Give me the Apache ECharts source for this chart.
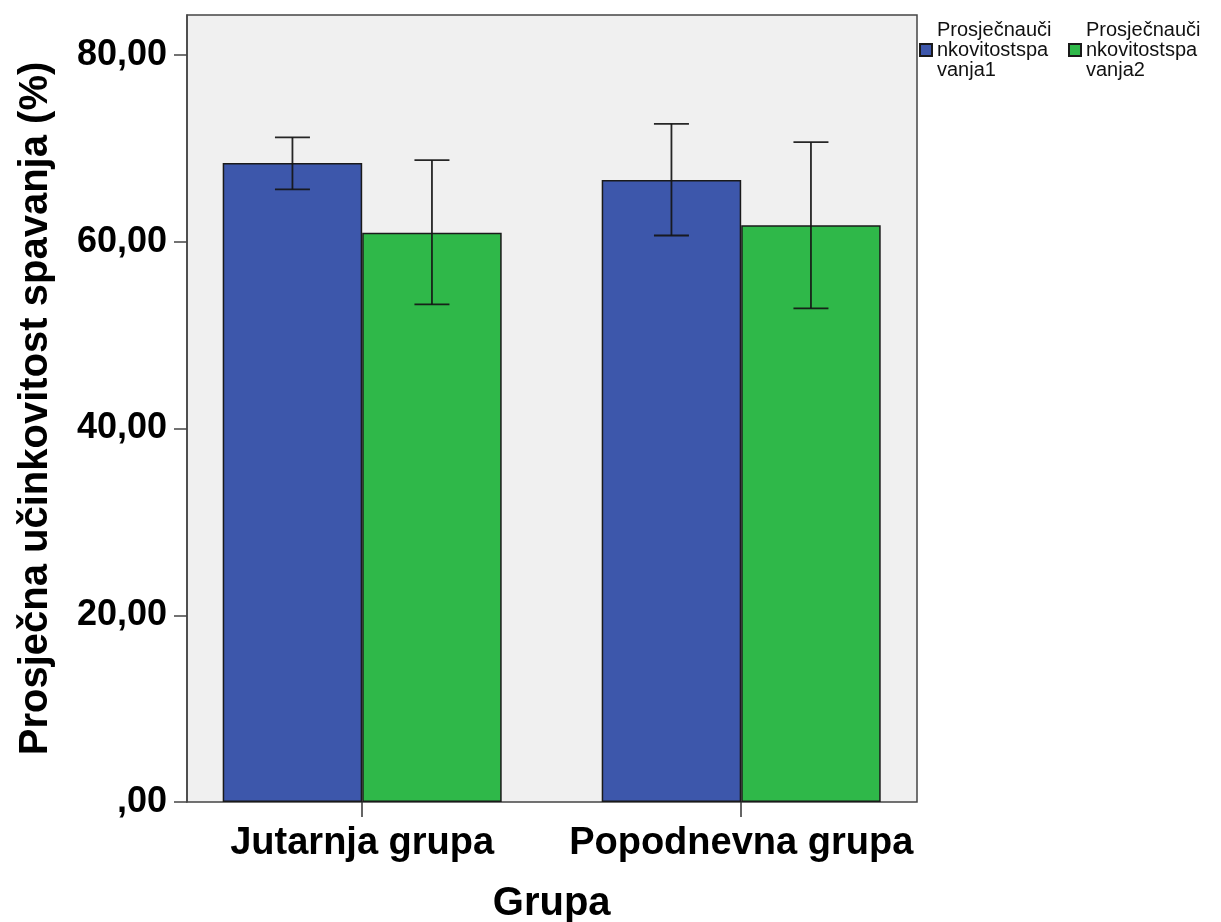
<!DOCTYPE html>
<html>
<head>
<meta charset="utf-8">
<script src="https://cdn.jsdelivr.net/npm/echarts@6/dist/echarts.min.js"></script>
<style>
html,body{margin:0;padding:0;background:#fff;}
#chart{width:1221px;height:922px;}
</style>
</head>
<body>
<div id="chart"></div>
<script>
// ---- data ----
const categories = ['Jutarnja grupa', 'Popodnevna grupa'];
const seriesNames = ['Prosječnaučinkovitostspavanja1', 'Prosječnaučinkovitostspavanja2'];
const means1 = [68.45, 66.62];
const low1 = [65.63, 60.68];
const high1 = [71.20, 72.64];
const means2 = [60.98, 61.77];
const low2 = [53.30, 52.88];
const high2 = [68.75, 70.68];
const yTicks = [0, 20, 40, 60, 80];
const yMax = 84.3;

// ---- styles ----
const FONT = "'Liberation Sans', Arial, sans-serif";
const BLUE = '#3d57ab';
const GREEN = '#2fb849';
const BAR_W = 139.5;

function fmt(v) {
  if (v === 0) return ',00';
  return v.toFixed(2).replace('.', ',');
}

function errSeries(lows, highs, offset) {
  return {
    type: 'custom',
    xAxisIndex: 0,
    yAxisIndex: 0,
    z: 5,
    silent: true,
    encode: { x: 0, y: [1, 2] },
    data: categories.map((c, i) => [i, lows[i], highs[i]]),
    renderItem: function (params, api) {
      const i = api.value(0);
      const x = api.coord([i, 0])[0] + offset;
      const yl = api.coord([i, api.value(1)])[1];
      const yh = api.coord([i, api.value(2)])[1];
      const cap = 17.5;
      const st = { stroke: '#151515', lineWidth: 1.8, opacity: 0.92 };
      return {
        type: 'group',
        children: [
          { type: 'line', shape: { x1: x, y1: yl, x2: x, y2: yh }, style: st },
          { type: 'line', shape: { x1: x - cap, y1: yh, x2: x + cap, y2: yh }, style: st },
          { type: 'line', shape: { x1: x - cap, y1: yl, x2: x + cap, y2: yl }, style: st }
        ]
      };
    }
  };
}

function legendFmt(name) {
  return name.slice(0, 12) + '\n' + name.slice(12, 24) + '\n' + name.slice(24);
}

const chart = echarts.init(document.getElementById('chart'), null, { renderer: 'canvas' });
const legendText = { fontFamily: FONT, fontSize: 20, color: '#111', lineHeight: 20 };

const option = {
  backgroundColor: '#ffffff',
  animation: false,
  legend: [
    {
      data: [seriesNames[0]], left: 919, top: 20, padding: 0,
      itemWidth: 12, itemHeight: 12, icon: 'rect',
      formatter: legendFmt, textStyle: legendText, selectedMode: false
    },
    {
      data: [seriesNames[1]], left: 1068, top: 20, padding: 0,
      itemWidth: 12, itemHeight: 12, icon: 'rect',
      formatter: legendFmt, textStyle: legendText, selectedMode: false
    }
  ],
  grid: [
    { left: 172.7, top: 15, width: 758, height: 787, show: false, outerBoundsMode: 'none', containLabel: false },
    { left: 187, top: 15, width: 730, height: 787, show: true, outerBoundsMode: 'none', containLabel: false,
      backgroundColor: '#f0f0f0', borderColor: '#444', borderWidth: 1.5 }
  ],
  xAxis: [
    {
      type: 'category', gridIndex: 0, data: categories,
      axisLine: { show: false },
      axisTick: { show: true, alignWithLabel: true, length: 15, lineStyle: { color: '#333', width: 1.5 } },
      axisLabel: { interval: 0, hideOverlap: false, fontFamily: FONT, fontWeight: 'bold', fontSize: 38, color: '#000', margin: 23 },
      name: 'Grupa', nameLocation: 'middle', nameGap: 82,
      nameTextStyle: { fontFamily: FONT, fontWeight: 'bold', fontSize: 40, color: '#000' }
    },
    {
      type: 'value', gridIndex: 1, show: false, min: 0, max: 1
    }
  ],
  yAxis: [
    { type: 'value', gridIndex: 0, min: 0, max: yMax, show: false },
    {
      type: 'value', gridIndex: 1, min: 0, max: yMax, interval: 20,
      splitLine: { show: false },
      axisLine: { show: true, lineStyle: { color: '#444', width: 1.5 } },
      axisTick: { show: true, length: 13, customValues: yTicks, lineStyle: { color: '#444', width: 1.5 } },
      axisLabel: {
        customValues: yTicks, formatter: fmt,
        fontFamily: FONT, fontWeight: 'bold', fontSize: 36, color: '#000', margin: 20
      },
      name: 'Prosječna učinkovitost spavanja (%)', nameLocation: 'middle', nameGap: 131, nameRotate: 90,
      nameTextStyle: { fontFamily: FONT, fontWeight: 'bold', fontSize: 40, color: '#000' }
    }
  ],
  series: [
    {
      name: seriesNames[0], type: 'bar', xAxisIndex: 0, yAxisIndex: 0,
      barWidth: BAR_W, barGap: '0%', data: means1,
      itemStyle: { color: BLUE, borderColor: '#1a1a1a', borderWidth: 1.5 }
    },
    {
      name: seriesNames[1], type: 'bar', xAxisIndex: 0, yAxisIndex: 0,
      barWidth: BAR_W, barGap: '0%', data: means2,
      itemStyle: { color: GREEN, borderColor: '#1a1a1a', borderWidth: 1.5 }
    },
    errSeries(low1, high1, -BAR_W / 2),
    errSeries(low2, high2, BAR_W / 2)
  ]
};
chart.setOption(option);
</script>
</body>
</html>
